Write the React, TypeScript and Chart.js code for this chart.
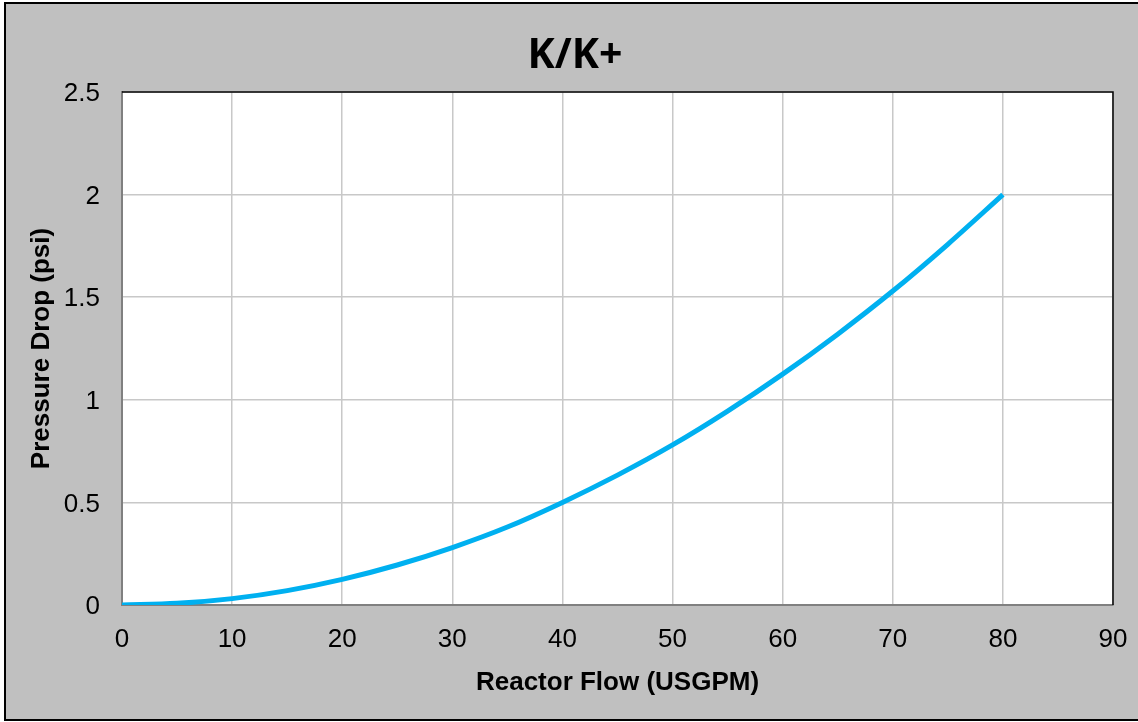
import React, { useEffect, useRef } from "react";
import { Chart, registerables } from "chart.js";

Chart.register(...registerables);

const chartTitle = "K/K+";
const xTitle = "Reactor Flow (USGPM)";
const yTitle = "Pressure Drop (psi)";
const flow = [0, 5, 10, 15, 20, 25, 30, 35, 40, 45, 50, 55, 60, 65, 70, 75, 80];
const pressureDrop = [0, 0.008, 0.031, 0.07, 0.125, 0.195, 0.28, 0.38, 0.5, 0.633, 0.78, 0.945, 1.125, 1.32, 1.53, 1.758, 2.0];

const W = 1138;
const H = 722;

const framePlugin = {
  id: "frame",
  beforeDraw(chart: any) {
    const ctx = chart.ctx;
    ctx.save();
    ctx.fillStyle = "#C0C0C0";
    ctx.fillRect(5, 3, W, H - 5);
    ctx.strokeStyle = "#000000";
    ctx.lineWidth = 2;
    ctx.strokeRect(5, 3, W, H - 5);
    const a = chart.chartArea;
    ctx.fillStyle = "#FFFFFF";
    ctx.fillRect(a.left, a.top, a.right - a.left, a.bottom - a.top);
    ctx.fillStyle = "#000000";
    ctx.font = "bold 41px 'Open Sans', sans-serif";
    ctx.textAlign = "center";
    ctx.textBaseline = "middle";
    ctx.fillText(chartTitle, 575, 56);
    ctx.restore();
  },
  afterDatasetsDraw(chart: any) {
    const ctx = chart.ctx;
    const a = chart.chartArea;
    ctx.save();
    ctx.strokeStyle = "#000000";
    ctx.lineWidth = 1.5;
    ctx.beginPath();
    ctx.moveTo(a.left, a.top);
    ctx.lineTo(a.right, a.top);
    ctx.lineTo(a.right, a.bottom);
    ctx.stroke();
    ctx.restore();
  },
};

export default function App() {
  const ref = useRef<HTMLCanvasElement>(null);
  useEffect(() => {
    if (!ref.current) return;
    const chart = new Chart(ref.current, {
      type: "line",
      data: {
        datasets: [
          {
            data: flow.map((x, i) => ({ x, y: pressureDrop[i] })),
            borderColor: "#00B0F0",
            borderWidth: 5,
            pointRadius: 0,
            cubicInterpolationMode: "monotone",
            fill: false,
          },
        ],
      },
      options: {
        animation: false,
        responsive: false,
        layout: { padding: { left: 0, top: 92, right: 25, bottom: 0 } },
        plugins: { legend: { display: false }, title: { display: false }, tooltip: { enabled: false } },
        scales: {
          x: {
            type: "linear",
            min: 0,
            max: 90,
            ticks: {
              stepSize: 10,
              padding: 19,
              color: "#000000",
              font: { family: "'Liberation Sans', Arial, sans-serif", size: 26 },
            },
            grid: { color: "#C8C8C8", lineWidth: 1.5, drawTicks: false },
            border: { color: "#808080", width: 2 },
            title: {
              display: true,
              text: xTitle,
              color: "#000000",
              font: { family: "'Liberation Sans', Arial, sans-serif", size: 26, weight: "bold" },
              padding: { top: 0, bottom: 24 },
            },
            afterFit(scale: any) {
              scale.height = H - 605;
              scale.paddingLeft = 0;
              scale.paddingRight = 0;
            },
          },
          y: {
            type: "linear",
            min: 0,
            max: 2.5,
            ticks: {
              stepSize: 0.5,
              padding: 22,
              labelOffset: 2,
              color: "#000000",
              font: { family: "'Liberation Sans', Arial, sans-serif", size: 26 },
              callback: (v: any) => String(Number(v)),
            },
            grid: { color: "#C8C8C8", lineWidth: 1.5, drawTicks: false },
            border: { color: "#808080", width: 2 },
            title: {
              display: true,
              text: yTitle,
              color: "#000000",
              font: { family: "'Liberation Sans', Arial, sans-serif", size: 26, weight: "bold" },
              padding: { top: 26, bottom: 0 },
            },
            afterFit(scale: any) {
              scale.width = 122;
              scale.paddingTop = 0;
              scale.paddingBottom = 0;
            },
          },
        },
      },
      plugins: [framePlugin],
    } as any);
    return () => chart.destroy();
  }, []);
  return (
    <div style={{ position: "absolute", left: 0, top: 0, width: W, height: H }}>
      <canvas ref={ref} width={W} height={H} style={{ display: "block", width: W, height: H }} />
    </div>
  );
}
